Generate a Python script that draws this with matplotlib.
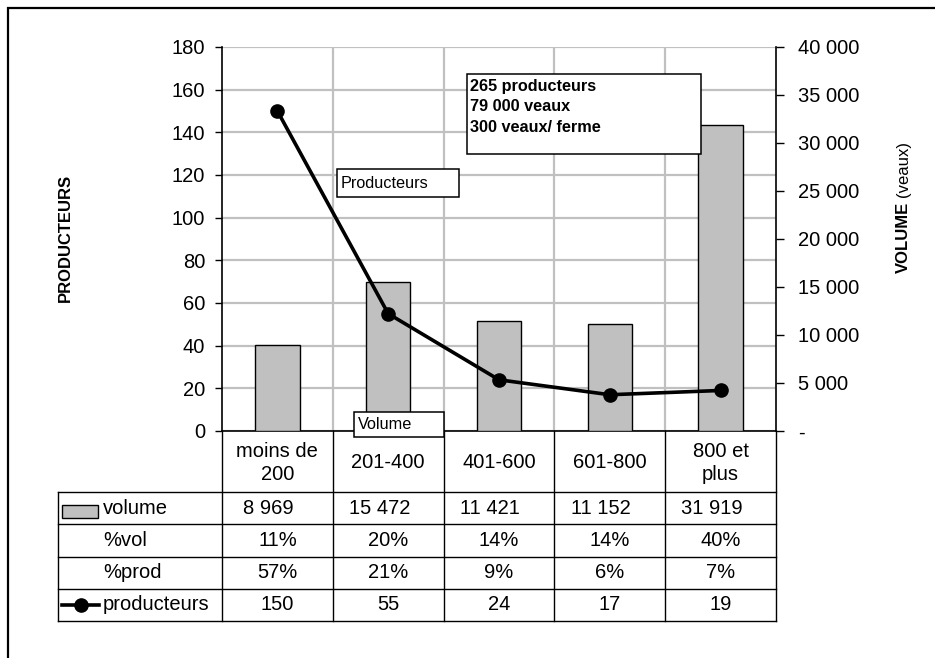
import numpy as np
import matplotlib.pyplot as plt
from matplotlib.lines import Line2D
from matplotlib.patches import Rectangle
from matplotlib.ticker import FuncFormatter, MultipleLocator
from matplotlib.transforms import blended_transform_factory

plt.rcParams['font.family'] = ['Liberation Sans', 'DejaVu Sans']

# tranches de taille (veaux / ferme)
categories = ['moins de\n200', '201-400', '401-600', '601-800', '800 et\nplus']
volume = [8969, 15472, 11421, 11152, 31919]
pct_vol = [11, 20, 14, 14, 40]
pct_prod = [57, 21, 9, 6, 7]
producteurs = [150, 55, 24, 17, 19]
resume = ['265 producteurs', '79 000 veaux', '300 veaux/ ferme']

W, H = 935, 658
fig = plt.figure(figsize=(W / 100, H / 100), dpi=100)

def fx(px):
    return px / W

def fy(py):
    return 1 - py / H

# zone du graphique
L, R, T, B = 222, 776, 47, 431
rect = [fx(L), fy(B), (R - L) / W, (B - T) / H]
ax = fig.add_axes(rect)
ax.set_xlim(-0.5, len(categories) - 0.5)
ax.set_ylim(0, 180)
ax.yaxis.set_major_locator(MultipleLocator(20))
ax.set_xticks(np.arange(0.5, len(categories) - 1))
ax.tick_params(axis='x', length=0, labelbottom=False)
ax.tick_params(axis='y', direction='out', length=5, width=1, pad=7, labelsize=14.5)
ax.grid(True, color='#c0c0c0', lw=1.6)
ax.set_axisbelow(True)
for s in ['top', 'right']:
    ax.spines[s].set_visible(False)
ax.spines['left'].set_linewidth(1.2)
ax.spines['bottom'].set_linewidth(1.2)

# volume sur l'axe de droite
ax2 = ax.twinx()
ax2.set_ylim(0, 40000)
ax2.yaxis.set_major_locator(MultipleLocator(5000))
ax2.yaxis.set_major_formatter(FuncFormatter(
    lambda v, p: '-' if v == 0 else f'{int(v):,}'.replace(',', ' ')))
ax2.tick_params(axis='y', direction='out', length=6, width=1, pad=10, labelsize=14.5)
for s in ['top', 'left', 'bottom']:
    ax2.spines[s].set_visible(False)
ax2.spines['right'].set_linewidth(1.2)
ax2.bar(range(len(categories)), volume, width=0.4, color='#c0c0c0',
        edgecolor='black', lw=1)

# courbe des producteurs au-dessus des barres
ax3 = fig.add_axes(rect, sharex=ax, sharey=ax)
ax3.axis('off')
ax3.patch.set_visible(False)
ax3.plot(range(len(categories)), producteurs, color='black', lw=2.6,
         marker='o', ms=9.5)

# titres des axes
fig.text(fx(65), fy(238), 'PRODUCTEURS', rotation=90, ha='center', va='center',
         fontsize=12, fontweight='bold')

renderer = fig.canvas.get_renderer()
t_vol = fig.text(fx(903), fy(273), 'VOLUME', rotation=90, ha='left', va='center',
                 rotation_mode='anchor', fontsize=12, fontweight='bold')
h_vol = t_vol.get_window_extent(renderer).height
fig.text(fx(903), fy(273 - h_vol - 5), '(veaux)', rotation=90, ha='left',
         va='center', rotation_mode='anchor', fontsize=12)

# encadrés
def box(x0, y0, x1, y1):
    fig.add_artist(Rectangle((fx(x0), fy(y1)), fx(x1) - fx(x0), fy(y0) - fy(y1),
                             transform=fig.transFigure, fc='white', ec='black',
                             lw=1.1, zorder=5))

box(467, 74, 701, 154)
for k, line in enumerate(resume):
    fig.text(fx(470), fy(86 + k * 20.5), line, ha='left', va='center',
             fontsize=11.7, fontweight='bold', zorder=6)
box(337, 169, 459, 197)
fig.text(fx(341), fy(183), 'Producteurs', ha='left', va='center', fontsize=11.7, zorder=6)
box(354, 412, 444, 437)
fig.text(fx(358), fy(424.5), 'Volume', ha='left', va='center', fontsize=11.7, zorder=6)

# tableau de données
tr = blended_transform_factory(ax.transData, fig.transFigure)
n = len(categories)
rows = [492, 524, 557, 589, 621]
for y in rows:
    fig.add_artist(Line2D([fx(58), fx(R)], [fy(y), fy(y)], color='black', lw=1))
fig.add_artist(Line2D([fx(58), fx(58)], [fy(492), fy(621)], color='black', lw=1))
for i in range(n + 1):
    fig.add_artist(Line2D([i - 0.5, i - 0.5], [fy(B), fy(621)], color='black',
                          lw=1, transform=tr))

for i, c in enumerate(categories):
    fig.text(i, fy(463), c, transform=tr, ha='center', va='center',
             fontsize=14.5, linespacing=1.32)
    fig.text(i - 0.08, fy(508), f'{volume[i]:,}'.replace(',', ' '), transform=tr,
             ha='center', va='center', fontsize=14.5)
    fig.text(i, fy(540.5), f'{pct_vol[i]}%', transform=tr, ha='center',
             va='center', fontsize=14.5)
    fig.text(i, fy(573), f'{pct_prod[i]}%', transform=tr, ha='center',
             va='center', fontsize=14.5)
    fig.text(i, fy(605), str(producteurs[i]), transform=tr, ha='center',
             va='center', fontsize=14.5)

for y, lab in zip([508, 540.5, 573, 605], ['volume', '%vol', '%prod', 'producteurs']):
    fig.text(fx(103), fy(y), lab, ha='left', va='center', fontsize=14.5)

# clés de légende dans le tableau
fig.add_artist(Rectangle((fx(62), fy(518)), fx(98) - fx(62), fy(505) - fy(518),
                         transform=fig.transFigure, fc='#c0c0c0', ec='black', lw=1))
fig.add_artist(Line2D([fx(62), fx(99)], [fy(605), fy(605)], color='black', lw=2.6))
fig.add_artist(Line2D([fx(80.5)], [fy(605)], color='black', marker='o', ms=9.5))

# cadre
fig.add_artist(Rectangle((fx(8), -0.1), 1.2, fy(8) + 0.1, transform=fig.transFigure,
                         fill=False, ec='black', lw=1.6))

fig.savefig('out.png', dpi=100)
